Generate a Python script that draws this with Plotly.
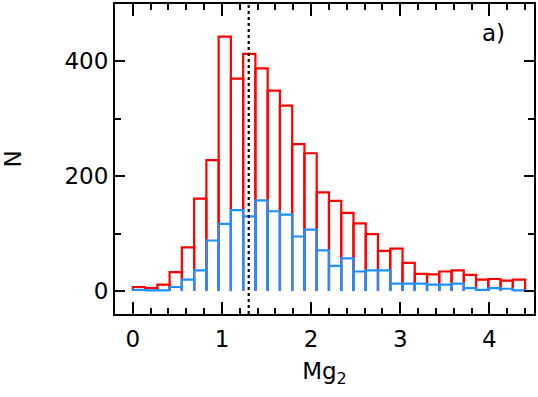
import numpy as np
import plotly.graph_objects as go

# histogram of Mg2: 32 bins between 0 and 4.4
bin_lo = 0.0
bin_hi = 4.4
n_bins = 32

n_all = [7, 5, 11, 33, 76, 161, 228, 443, 370, 413, 388, 349, 323, 256, 240, 172,
         157, 136, 118, 99, 70, 74, 49, 30, 29, 34, 36, 28, 20, 21, 18, 20]
n_sub = [2, 1, 1, 7, 20, 36, 88, 117, 141, 130, 158, 139, 133, 95, 107, 71,
         44, 57, 34, 36, 36, 13, 13, 13, 11, 11, 13, 5, 2, 5, 4, 1]

mg2_mark = 1.3

edges = np.linspace(bin_lo, bin_hi, n_bins + 1)


def outline(counts):
    # open-bottom outline of each bin: up, across, down
    xs, ys = [], []
    for i, c in enumerate(counts):
        xs += [edges[i], edges[i], edges[i + 1], edges[i + 1], None]
        ys += [0, c, c, 0, None]
    return xs, ys


fig = go.Figure()

x_all, y_all = outline(n_all)
fig.add_trace(go.Scatter(x=x_all, y=y_all, mode="lines",
                         line=dict(color="#ff0000", width=2.2), hoverinfo="skip"))

x_sub, y_sub = outline(n_sub)
fig.add_trace(go.Scatter(x=x_sub, y=y_sub, mode="lines",
                         line=dict(color="#1e90ff", width=2.2), hoverinfo="skip"))

fig.add_vline(x=mg2_mark, line=dict(color="black", width=2.2, dash="dot"))

font = dict(family="DejaVu Sans, sans-serif", size=23, color="black")

fig.add_annotation(text="a)", xref="paper", yref="paper", x=0.935, y=0.955,
                   showarrow=False, font=font)

fig.update_xaxes(range=[-0.2, 4.5], tickvals=[0, 1, 2, 3, 4],
                 ticks="inside", ticklen=12, tickwidth=2, tickcolor="black",
                 minor=dict(dtick=0.2, tick0=0, ticks="inside", ticklen=6,
                            tickwidth=2, tickcolor="black"),
                 showline=True, linewidth=2, linecolor="black", mirror="allticks",
                 showgrid=False, zeroline=False, ticklabelstandoff=3,
                 title=dict(text="Mg<sub>2</sub>", standoff=12, font=font),
                 tickfont=font)
fig.update_yaxes(range=[-40, 500], tickvals=[0, 200, 400],
                 ticks="inside", ticklen=10, tickwidth=2, tickcolor="black",
                 minor=dict(dtick=100, tick0=0, ticks="inside", ticklen=6,
                            tickwidth=2, tickcolor="black"),
                 showline=True, linewidth=2, linecolor="black", mirror="allticks",
                 showgrid=False, zeroline=False,
                 title=dict(text="N", standoff=39, font=font),
                 tickfont=font)

fig.update_layout(width=538, height=397, showlegend=False,
                  margin=dict(l=115, r=3, t=2, b=83),
                  plot_bgcolor="white", paper_bgcolor="white", font=font)

fig.write_html("out.html", config={"displayModeBar": False},
               post_script="document.body.style.margin='0';")
